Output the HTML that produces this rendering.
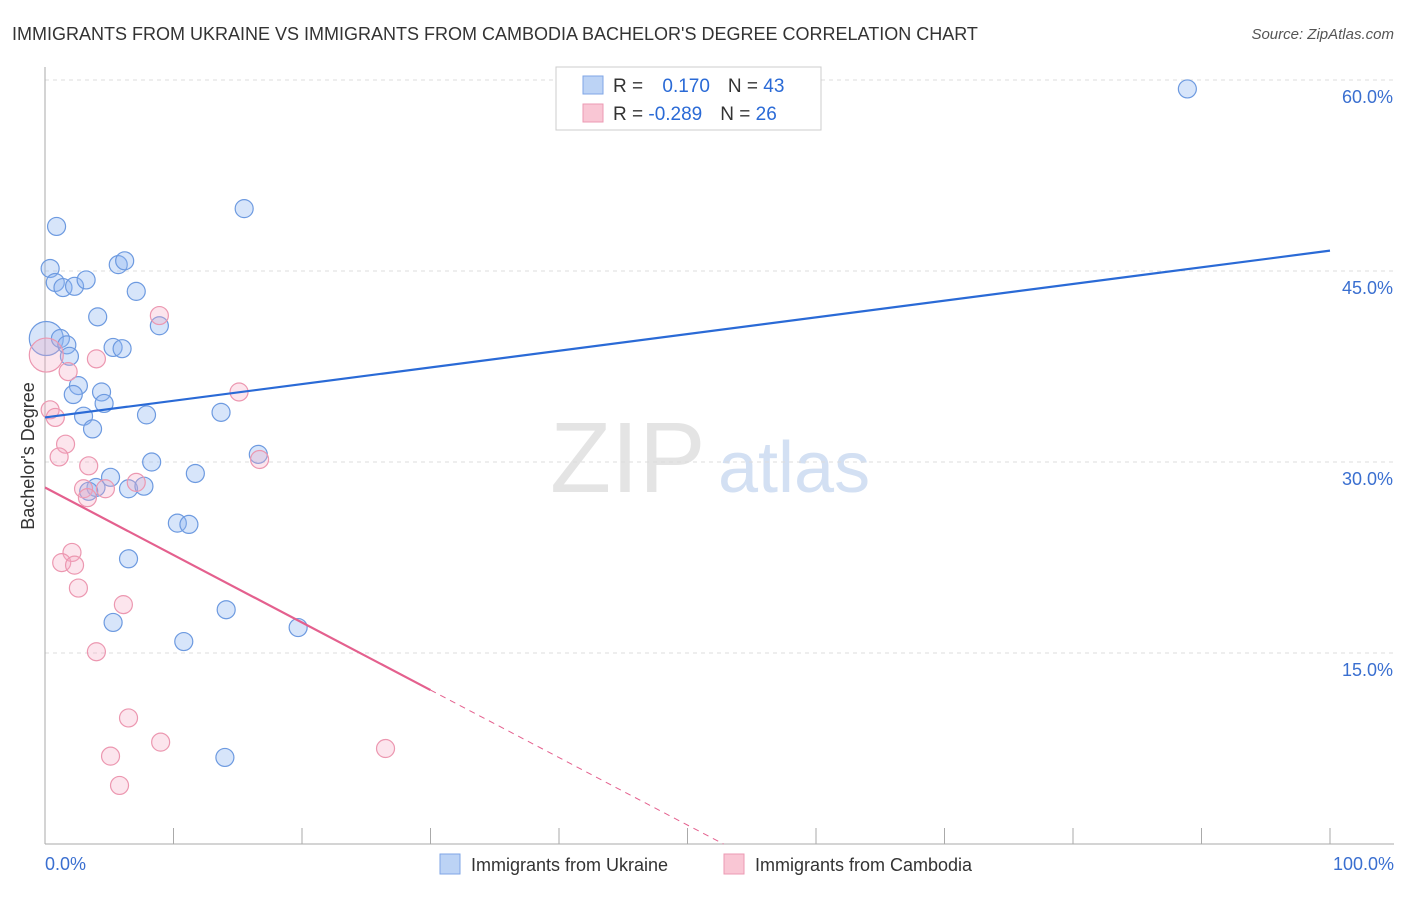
<!DOCTYPE html>
<html><head><meta charset="utf-8"><style>
body{margin:0;background:#fff;font-family:"Liberation Sans",sans-serif;}
svg text{font-family:"Liberation Sans",sans-serif;}
</style></head><body>
<svg width="1406" height="892">
<text x="12" y="40" font-size="18" fill="#333">IMMIGRANTS FROM UKRAINE VS IMMIGRANTS FROM CAMBODIA BACHELOR'S DEGREE CORRELATION CHART</text>
<text x="1394" y="39" font-size="15" fill="#555" text-anchor="end" font-style="italic">Source: ZipAtlas.com</text>
<text x="550" y="492" font-size="100" fill="#e4e4e4" font-family="Liberation Serif">ZIP</text>
<text x="718" y="492" font-size="72" fill="#d3e0f3">atlas</text>
<g id="grid"></g>
<line x1="45" y1="67" x2="45" y2="844" stroke="#aaa"/>
<line x1="45" y1="844" x2="1394" y2="844" stroke="#aaa"/>
<g id="ticks"></g>
<text transform="translate(34,456) rotate(-90)" font-size="18" fill="#333" text-anchor="middle">Bachelor's Degree</text>
<text x="45" y="870" font-size="18" fill="#3a6fd0">0.0%</text>
<text x="1394" y="870" font-size="18" fill="#3a6fd0" text-anchor="end">100.0%</text>
<g id="points"></g>
<g id="trends"></g>
<g>
<rect x="556" y="67" width="265" height="63" fill="#fff" stroke="#ccc"/>
<rect x="583" y="76" width="20" height="18" fill="#bcd3f5" stroke="#7fa6e6"/>
<rect x="583" y="104" width="20" height="18" fill="#f9c6d4" stroke="#ec9ab3"/>
<text x="613" y="92" font-size="19" fill="#333">R = <tspan fill="#2a6ad6" dx="14">0.170</tspan><tspan fill="#333" dx="18">N = </tspan><tspan fill="#2a6ad6">43</tspan></text>
<text x="613" y="120" font-size="19" fill="#333">R = <tspan fill="#2a6ad6">-0.289</tspan><tspan fill="#333" dx="18">N = </tspan><tspan fill="#2a6ad6">26</tspan></text>
</g>
<g>
<rect x="440" y="854" width="20" height="20" fill="#bcd3f5" stroke="#7fa6e6"/>
<text x="471" y="871" font-size="18" fill="#333">Immigrants from Ukraine</text>
<rect x="724" y="854" width="20" height="20" fill="#f9c6d4" stroke="#ec9ab3"/>
<text x="755" y="871" font-size="18" fill="#333">Immigrants from Cambodia</text>
</g>
</svg>
<script>
const yTicks=[15,30,45,60];
const xTicks=[0,10,20,30,40,50,60,70,80,90,100];
const ukrX=[88.9,15.5,0.9,0.4,0.8,1.4,2.3,3.2,5.7,6.2,7.1,4.1,8.9,0.1,1.2,1.7,1.9,5.3,6.0,2.6,2.2,4.4,4.6,3.0,7.9,13.7,3.7,16.6,8.3,11.7,5.1,3.97,3.4,6.5,7.7,10.3,11.2,6.5,14.1,5.3,19.7,10.8,14.0];
const ukrY=[59.3,49.9,48.5,45.2,44.1,43.7,43.8,44.3,45.5,45.8,43.4,41.4,40.7,39.7,39.7,39.2,38.3,39.0,38.9,36.0,35.3,35.5,34.6,33.6,33.7,33.9,32.6,30.6,30.0,29.1,28.8,28.0,27.7,27.9,28.1,25.2,25.1,22.4,18.4,17.4,17.0,15.9,6.8];
const ukrBig=[13];
const camX=[8.9,0.1,4.0,1.8,15.1,0.4,0.8,1.6,1.1,16.7,3.4,3.0,4.7,3.3,7.1,2.1,1.3,2.3,2.6,6.1,4.0,6.5,9.0,5.1,26.5,5.8];
const camY=[41.5,38.4,38.1,37.1,35.5,34.1,33.5,31.4,30.4,30.2,29.7,27.9,27.9,27.2,28.4,22.9,22.1,21.9,20.1,18.8,15.1,9.9,8.0,6.9,7.5,4.6];
const camBig=[1];
const ukrTrend=[33.5,46.6];
const camTrend=[28.0,0];
const NS='http://www.w3.org/2000/svg';
const X=v=>45+v*12.85, Y=v=>844-v*12.733;
function mk(tag,attrs,parent){const e=document.createElementNS(NS,tag);for(const k in attrs)e.setAttribute(k,attrs[k]);document.getElementById(parent).appendChild(e);return e;}
yTicks.forEach(t=>{
 const l=mk('line',{x1:45,x2:1394,y1:Y(t),y2:Y(t),stroke:'#ddd','stroke-dasharray':'4,4'},'grid');
 
 
 const tx=mk('text',{x:1393,y:Y(t)+23,'font-size':18,fill:'#3a6fd0','text-anchor':'end'},'grid');
 tx.textContent=t.toFixed(1)+'%';
 
 
});
xTicks.forEach(t=>{
 const l=mk('line',{x1:X(t),x2:X(t),y1:828,y2:844,stroke:'#aaa'},'ticks');
 
 
});
ukrX.forEach((x,i)=>{
 const big=ukrBig.includes(i);
 const c=mk('circle',{cx:X(x),cy:Y(ukrY[i]),r:big?17:9,fill:'rgba(140,180,240,0.35)',stroke:'#6d9ae0','stroke-width':1.2},'points');
 
 
});
camX.forEach((x,i)=>{
 const big=camBig.includes(i);
 const c=mk('circle',{cx:X(x),cy:Y(camY[i]),r:big?17:9,fill:'rgba(245,170,195,0.3)',stroke:'#ec97b0','stroke-width':1.2},'points');
 
 
});
const bt=mk('line',{x1:X(0),y1:Y(ukrTrend[0]),x2:X(100),y2:Y(ukrTrend[1]),stroke:'#2a6ad6','stroke-width':2.2},'trends');


const slope=(camTrend[1]-camTrend[0]);
const xEnd=52.8;
const camAt=x=>camTrend[0]+(camTrend[1]-camTrend[0])*x/xEnd;
const pt=mk('line',{x1:X(0),y1:Y(camAt(0)),x2:X(30),y2:Y(camAt(30)),stroke:'#e4608e','stroke-width':2.2},'trends');


const pd=mk('line',{x1:X(30),y1:Y(camAt(30)),x2:X(xEnd),y2:Y(camAt(xEnd)),stroke:'#e4608e','stroke-width':1,'stroke-dasharray':'6,5'},'trends');


</script>
</body></html>
